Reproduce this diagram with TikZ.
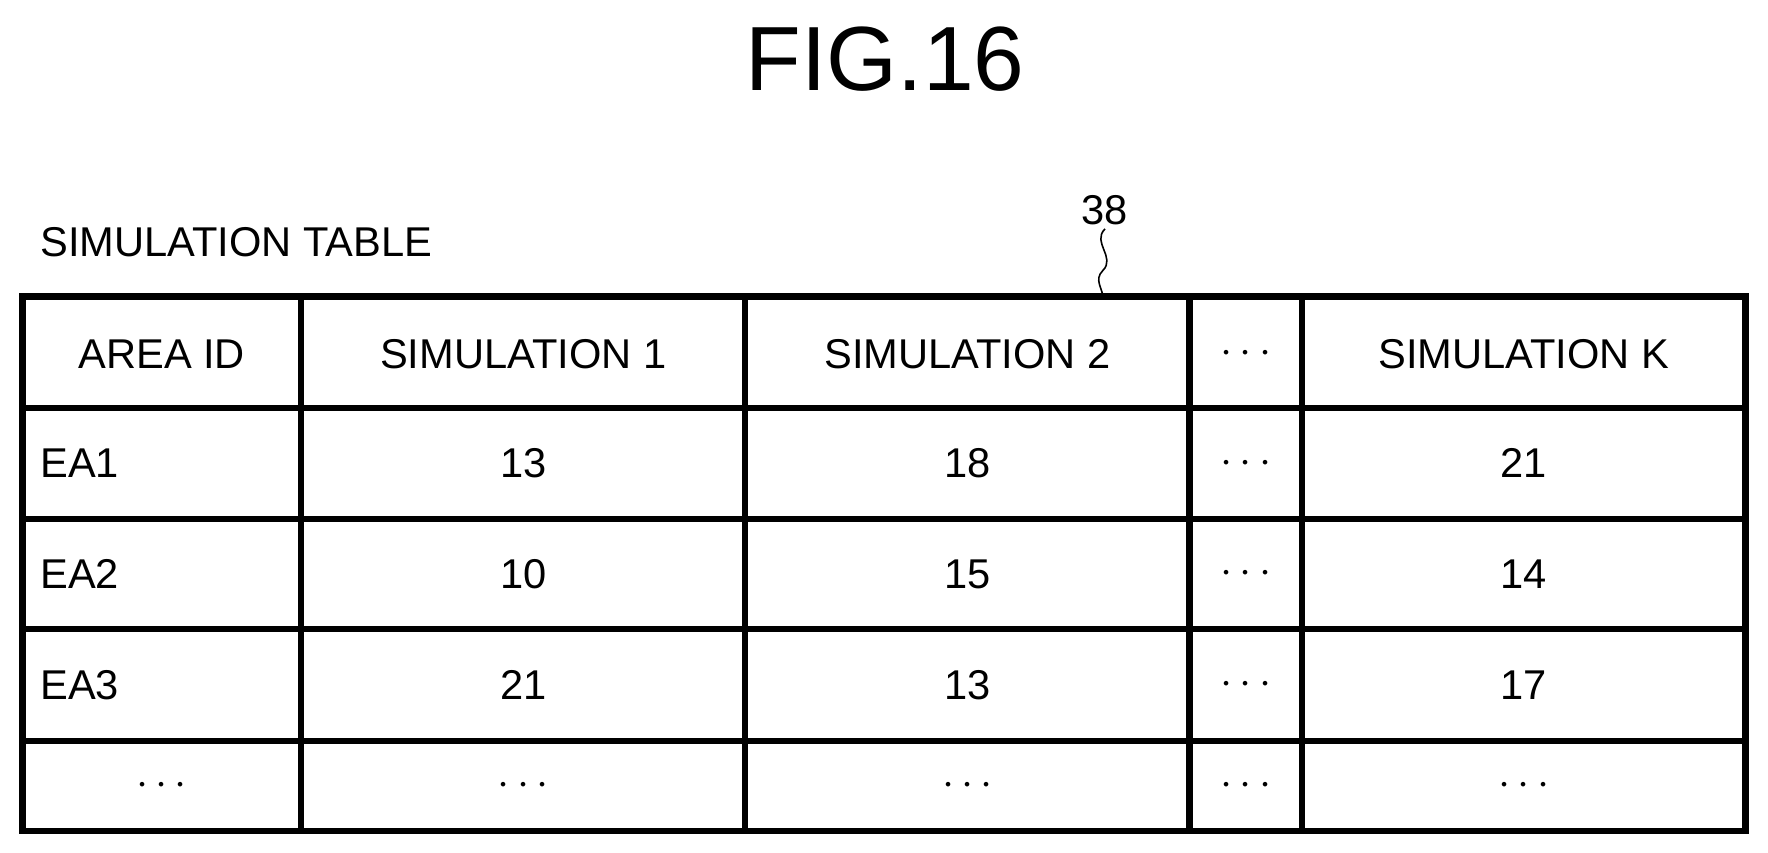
\documentclass[tikz,border=0pt]{standalone}
\usepackage{fontspec}
\setmainfont{Liberation Sans}
\usetikzlibrary{calc}

\begin{document}
\begin{tikzpicture}
[
	x=0.01cm, y=-0.01cm,
	cell/.style = {font=\fontsize{10.5}{12}\selectfont, inner sep=0pt},
	idcell/.style = {cell, anchor=west},
]
\useasboundingbox (0,0) rectangle (1568,756);

\node[font=\fontsize{23}{26}\selectfont] (fig) at (785,52) {FIG.16};
\node[idcell] (title) at (35,215) {SIMULATION TABLE};
\node[cell] (ref) at (980,186) {38};

% table frame
\draw[line width=1.6pt] (20,263) rectangle (1548,737);
\foreach \x in {267,661,1055,1155}
\draw[line width=1.6pt] (\x,263) -- (\x,737);
\foreach \y in {362,460,558,657}
\draw[line width=1.6pt] (20,\y) -- (1548,\y);

% reference squiggle
\coordinate (sq) at (980,203);
\draw[thin] (sq) .. controls (968,215) and (990,228) .. (978,240) .. controls (970,248) and (978,256) .. (978,263);

% header
\node[cell] (h1) at (143.5,314) {AREA ID};
\node[cell] (h2) at (464,314) {SIMULATION 1};
\node[cell] (h3) at (858,314) {SIMULATION 2};
\node[cell] (h4) at (1105,314) {$\cdots$};
\node[cell] (h5) at (1351.5,314) {SIMULATION K};

% rows
\foreach \y/\a/\b/\c/\d in {411/EA1/13/18/21, 509/EA2/10/15/14, 607.5/EA3/21/13/17}{
\node[idcell] at (35,\y) {\a};
\node[cell] at (464,\y) {\b};
\node[cell] at (858,\y) {\c};
\node[cell] at (1105,\y) {$\cdots$};
\node[cell] at (1351.5,\y) {\d};
}
\foreach \x in {143.5,464,858,1105,1351.5}
\node[cell] at (\x,697) {$\cdots$};
\end{tikzpicture}
\end{document}
